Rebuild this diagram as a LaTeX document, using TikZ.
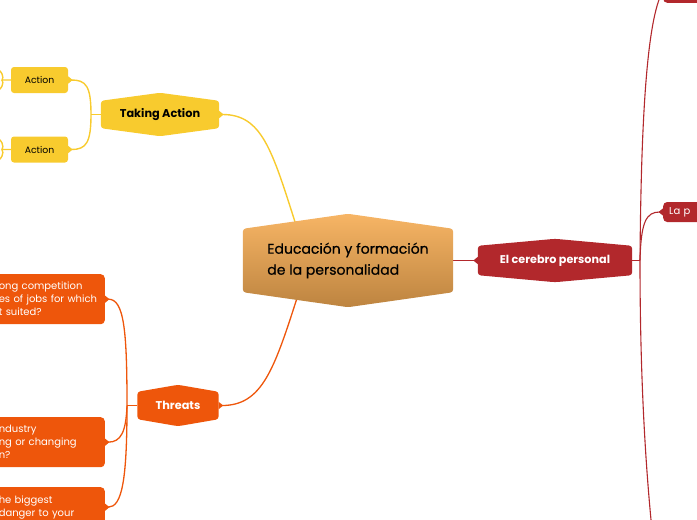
\documentclass[tikz,border=0pt]{standalone}
\usepackage{fontspec}
\setmainfont{Poppins}
\newfontfamily\popmedium{Poppins}[FakeBold=0.5]
\usetikzlibrary{arrows.meta, positioning}
\pgfdeclarelayer{edges}
\pgfdeclarelayer{shapes}
\pgfsetlayers{edges,shapes,main}
\definecolor{topictop}{HTML}{F7B565}
\definecolor{topicbot}{HTML}{BD8440}
\definecolor{actyellow}{HTML}{F8CB2E}
\definecolor{brainred}{HTML}{B2282C}
\definecolor{threatorange}{HTML}{EE560B}
\tikzset{>=Triangle}
% hexagon-like topic shape drawn behind a node: node, fill options, peak
\newcommand{\hexfill}[3]{%
  \begin{pgfonlayer}{shapes}
  \path[#2, rounded corners=3pt] ([yshift=-#3]#1.north west) -- (#1.north) -- ([yshift=-#3]#1.north east)
    -- ([yshift=#3]#1.south east) -- (#1.south) -- ([yshift=#3]#1.south west) -- cycle;
  \end{pgfonlayer}}

\begin{document}
\begin{tikzpicture}[x=1pt, y=-1pt,
  topic/.style={inner sep=0pt, align=center},
  actionbox/.style={fill=actyellow, rounded corners=3pt, minimum width=57pt, minimum height=26pt, inner sep=0pt, font=\fontsize{9.3}{11}\selectfont},
  threatbox/.style={fill=threatorange, text=white, rounded corners=4pt, font=\fontsize{10}{13}\selectfont, text width=100pt, align=left, inner xsep=6pt, minimum height=50pt, anchor=north east},
  yline/.style={draw=actyellow, line width=1.4pt},
  oline/.style={draw=threatorange, line width=1.3pt},
  rline/.style={draw=brainred, line width=1.1pt},
  tip/.style={-{Triangle[reversed, length=4.5pt, width=7pt]}}]
\useasboundingbox (0,0) rectangle (697,520);
\clip (0,0) rectangle (697,520);

% topics
\node[topic, minimum width=210pt, minimum height=93pt, align=left, font=\popmedium\fontsize{14}{21}\selectfont] (edu) at (348,260.5) {Educación y formación\\de la personalidad};
\hexfill{edu}{top color=topictop, bottom color=topicbot}{15pt}

\node[topic, minimum width=118pt, minimum height=43pt, font=\bfseries\fontsize{11.3}{12}\selectfont] (ta) at (160,114.5) {Taking Action};
\hexfill{ta}{fill=actyellow}{8pt}

\node[topic, minimum width=154pt, minimum height=43pt, text=white, font=\bfseries\fontsize{11.2}{12}\selectfont] (cb) at (555,260.5) {El cerebro personal};
\hexfill{cb}{fill=brainred}{7pt}

\node[topic, minimum width=81pt, minimum height=41pt, text=white, font=\bfseries\fontsize{11.3}{12}\selectfont] (th) at (178,405.5) {Threats};
\hexfill{th}{fill=threatorange}{7pt}

% subtopics
\node[actionbox] (a1) at (39.5,80) {Action};
\node[actionbox] (a2) at (39.5,149.5) {Action};

\node[threatbox] (b1) at (105,274) {ong competition\\es of jobs for which\\t suited?};
\node[threatbox] (b2) at (105,417) {ndustry\\ng or changing\\n?};
\node[threatbox, minimum height=40pt] (b3) at (105,487) {he biggest\\danger to your};

\node[fill=brainred, rounded corners=4pt, minimum height=20pt, minimum width=60pt, anchor=west, text=white, font=\fontsize{10}{11}\selectfont, align=left, text width=48pt] (lap) at (663,212) {La p};
\node[fill=brainred, rounded corners=4pt, minimum height=24pt, minimum width=60pt, anchor=south west] (rtop) at (663,3) {};

% connectors
\coordinate (yj) at (91,114.5);
\coordinate (tj) at (127,405.5);
\coordinate (rj) at (640,260.5);
\coordinate (aj1) at (2,80);
\coordinate (aj2) at (2,149.5);

\begin{pgfonlayer}{edges}
\draw[yline, tip] (296,225) .. controls (272,150) and (262,114.5) .. (ta.east);
\draw[yline] (ta.west) -- (yj);
\draw[yline, tip] (yj) .. controls (91,86) and (86,80) .. (a1.east);
\draw[yline, tip] (yj) .. controls (91,143) and (86,149.5) .. (a2.east);
\draw[yline] (a1.west) -- (aj1) .. controls (4,77) and (3,72) .. (-6,66);
\draw[yline] (aj1) .. controls (4,83) and (3,88) .. (-6,94);
\draw[yline] (a2.west) -- (aj2) .. controls (4,146) and (3,141) .. (-6,135);
\draw[yline] (aj2) .. controls (4,153) and (3,158) .. (-6,164);

\draw[rline, tip] (edu.east) -- (cb.west);
\draw[rline] (cb.east) -- (rj);
\draw[rline] (rj) .. controls (641,130) and (646,20) .. (rtop.west);
\draw[rline, tip] (rj) .. controls (641,222) and (646,212) .. (lap.west);
\draw[rline] (rj) .. controls (640,360) and (644,450) .. (652,530);

\draw[oline, tip] (298,295) .. controls (274,370) and (262,405.5) .. (th.east);
\draw[oline] (th.west) -- (tj);
\draw[oline, tip] (tj) .. controls (127,330) and (124,299) .. (b1.east);
\draw[oline, tip] (tj) .. controls (126,432) and (121,442) .. (b2.east);
\draw[oline, tip] (tj) .. controls (127,480) and (122,507) .. (b3.east);
\end{pgfonlayer}
\end{tikzpicture}
\end{document}
